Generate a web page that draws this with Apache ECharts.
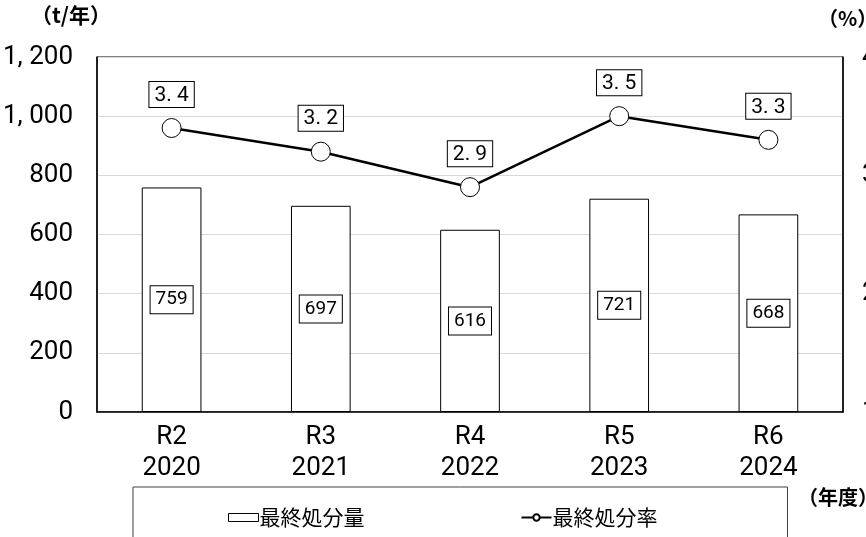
<!DOCTYPE html>
<html>
<head>
<meta charset="utf-8">
<script src="https://cdn.jsdelivr.net/npm/echarts@6/dist/echarts.min.js"></script>
<style>
  html, body { margin: 0; padding: 0; background: #fff; }
  #chart { width: 866px; height: 537px; }
</style>
</head>
<body>
<div id="chart"></div>
<script>
  // 年度ラベル
  var years = ['R2\n2020', 'R3\n2021', 'R4\n2022', 'R5\n2023', 'R6\n2024'];
  // 最終処分量 (t/年)
  var amount = [759, 697, 616, 721, 668];
  // 最終処分率 (%)
  var rate = [3.4, 3.2, 2.9, 3.5, 3.3];

  var numFont = '"Liberation Sans Narrow", "Roboto", sans-serif';
  var jpFont = '"Noto Sans CJK JP", sans-serif';

  function fmtThousand(v) {
    var s = String(v);
    if (s.length > 3) s = s.slice(0, s.length - 3) + ', ' + s.slice(-3);
    return s;
  }

  var chart = echarts.init(document.getElementById('chart'));
  chart.setOption({
    animation: false,
    grid: {
      left: 97, right: 23, top: 57, bottom: 125,
      outerBoundsMode: 'none',
      containLabel: false,
      show: true, borderColor: '#000', borderWidth: 1
    },
    graphic: [
      { type: 'text', left: 31, top: 5, style: { text: '（t/年）', font: 'bold 21px ' + jpFont, fill: '#000' } },
      { type: 'text', left: 818, top: 8, style: { text: '（%）', font: 'bold 20px ' + jpFont, fill: '#000' } },
      { type: 'text', left: 798, top: 487, style: { text: '（年度）', font: 'bold 20px ' + jpFont, fill: '#000' } }
    ],
    legend: {
      left: 133,
      top: 487,
      padding: [20, 130, 40, 95],
      itemGap: 156,
      itemWidth: 30,
      itemHeight: 8,
      borderColor: '#404040',
      borderWidth: 1,
      textStyle: { fontFamily: jpFont, fontSize: 21, color: '#000', padding: [0, 0, 0, -4] },
      data: [
        { name: '最終処分量', icon: 'rect', itemStyle: { color: '#fff', borderColor: '#000', borderWidth: 1 } },
        { name: '最終処分率' }
      ]
    },
    xAxis: {
      type: 'category',
      data: years,
      axisLine: { lineStyle: { color: '#000', width: 1.5 } },
      axisTick: { show: false },
      axisLabel: { fontFamily: numFont, fontSize: 26, color: '#000', lineHeight: 31, margin: 10 }
    },
    yAxis: [
      {
        type: 'value',
        min: 0,
        max: 1200,
        interval: 200,
        axisLine: { show: true, lineStyle: { color: '#000', width: 1.5 } },
        axisTick: { show: false },
        splitLine: { lineStyle: { color: '#d9d9d9', width: 1 } },
        axisLabel: { fontFamily: numFont, fontSize: 26, color: '#000', margin: 24, formatter: fmtThousand }
      },
      {
        type: 'value',
        min: 1,
        max: 4,
        interval: 1,
        axisLine: { show: true, lineStyle: { color: '#000', width: 1.5 } },
        axisTick: { show: false },
        splitLine: { show: false },
        axisLabel: { fontFamily: numFont, fontSize: 26, color: '#000', margin: 19, align: 'left' }
      }
    ],
    series: [
      {
        name: '最終処分量',
        type: 'bar',
        data: amount,
        barWidth: '40%',
        itemStyle: { color: '#fff', borderColor: '#000', borderWidth: 1 },
        label: {
          show: true,
          position: 'inside',
          fontFamily: numFont,
          fontSize: 19,
          color: '#000',
          backgroundColor: '#fff',
          borderColor: '#000',
          borderWidth: 1,
          padding: [5, 5, 3, 5]
        }
      },
      {
        name: '最終処分率',
        type: 'line',
        yAxisIndex: 1,
        data: rate,
        symbol: 'circle',
        symbolSize: 19,
        lineStyle: { color: '#000', width: 2.5 },
        itemStyle: { color: '#fff', borderColor: '#000', borderWidth: 1 },
        label: {
          show: true,
          position: 'top',
          distance: 11,
          fontFamily: numFont,
          fontSize: 21,
          color: '#000',
          backgroundColor: '#fff',
          borderColor: '#000',
          borderWidth: 1,
          padding: [3, 5, 1, 5],
          formatter: function (p) { return p.value.toFixed(1).replace('.', '. '); }
        }
      }
    ]
  });
</script>
</body>
</html>
